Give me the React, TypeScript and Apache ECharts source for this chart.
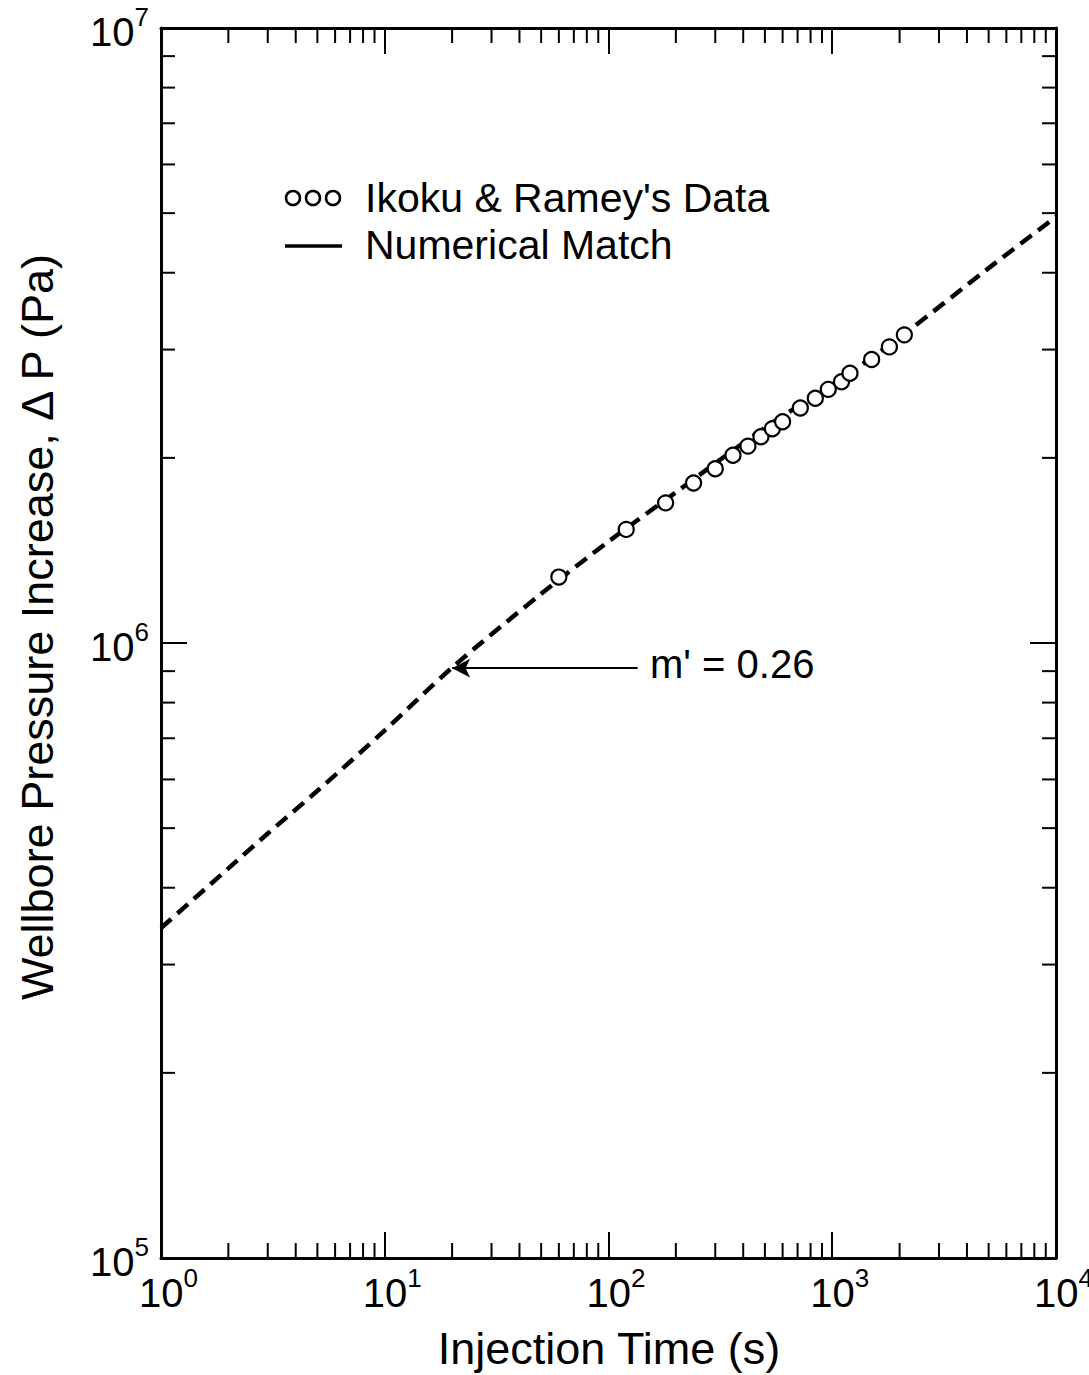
import React, { useEffect, useRef } from "react";
import * as echarts from "echarts";

// Ikoku & Ramey's data (injection time s, pressure increase Pa)
const dataTime = [60, 120, 180, 240, 300, 360, 420, 480, 540, 600, 720, 840, 960, 1100, 1200, 1500, 1800, 2100];
const dataPressure = [
  1.28e6, 1.53e6, 1.69e6, 1.82e6, 1.92e6, 2.02e6, 2.09e6, 2.165e6, 2.23e6, 2.29e6,
  2.41e6, 2.5e6, 2.585e6, 2.66e6, 2.745e6, 2.89e6, 3.03e6, 3.17e6,
];

// Numerical match (dashed curve)
const matchTime = [1, 2, 3, 5, 10, 20, 50, 100, 200, 500, 1000, 2000, 5000, 10000];
const matchPressure = [
  3.44e5, 4.3e5, 4.9e5, 5.75e5, 7.21e5, 9.12e5, 1.202e6, 1.462e6, 1.758e6, 2.239e6,
  2.63e6, 3.14e6, 4.07e6, 4.93e6,
];

// minor tick positions
const xMinorTicks = [
  2, 3, 4, 5, 6, 7, 8, 9,
  20, 30, 40, 50, 60, 70, 80, 90,
  200, 300, 400, 500, 600, 700, 800, 900,
  2000, 3000, 4000, 5000, 6000, 7000, 8000, 9000,
];
const yMinorTicks = [
  2e5, 3e5, 4e5, 5e5, 6e5, 7e5, 8e5, 9e5,
  2e6, 3e6, 4e6, 5e6, 6e6, 7e6, 8e6, 9e6,
];

// annotation arrow
const arrowFrom = [135, 9.1e5];
const arrowTo = [20, 9.1e5];
const slopeLabel = "m' = 0.26";

const FONT = "'Liberation Sans', Arial, Helvetica, sans-serif";

const powLabel = (v: number) => `{b|10}{s|${Math.round(Math.log10(v))}}`;
const richPow = {
  b: { fontSize: 40, fontFamily: FONT, color: "#000", lineHeight: 48, verticalAlign: "bottom" },
  s: { fontSize: 26, fontFamily: FONT, color: "#000", lineHeight: 25, verticalAlign: "top" },
};

export default function App() {
  const ref = useRef<HTMLDivElement>(null);
  useEffect(() => {
    if (!ref.current) return;
    const chart = echarts.init(ref.current, null, { renderer: "svg" });
    const axisLine = { show: true, lineStyle: { color: "#000", width: 3 } };
    const majorTick = { show: true, inside: true, length: 26, lineStyle: { color: "#000", width: 2 } };
    const option: any = {
      animation: false,
      backgroundColor: "#fff",
      grid: { left: 161, top: 28, width: 895, height: 1230, containLabel: false, outerBoundsMode: "none" },
      xAxis: [
        {
          type: "log", logBase: 10, min: 1, max: 10000, position: "bottom",
          axisLine, axisTick: majorTick, splitLine: { show: false },
          axisLabel: { formatter: powLabel, rich: richPow, margin: 7, padding: [0, 0, 0, 15] },
        },
        {
          type: "log", logBase: 10, min: 1, max: 10000, position: "top",
          axisLine, axisTick: majorTick, splitLine: { show: false },
          axisLabel: { show: false },
        },
      ],
      yAxis: [
        {
          type: "log", logBase: 10, min: 1e5, max: 1e7, position: "left",
          axisLine, axisTick: majorTick, splitLine: { show: false },
          axisLabel: { formatter: powLabel, rich: richPow, margin: 12 },
        },
        {
          type: "log", logBase: 10, min: 1e5, max: 1e7, position: "right",
          axisLine, axisTick: majorTick, splitLine: { show: false },
          axisLabel: { show: false },
        },
      ],
      series: [
        {
          type: "custom",
          xAxisIndex: 0, yAxisIndex: 0, silent: true, clip: false,
          data: xMinorTicks.map((v) => [v, 1e6]),
          encode: { x: 0, y: 1 },
          renderItem: (params: any, api: any) => {
            const cs = params.coordSys;
            const px = api.coord([api.value(0), 1e6])[0];
            const st = { stroke: "#000", lineWidth: 2 };
            return {
              type: "group",
              children: [
                { type: "line", shape: { x1: px, y1: cs.y + cs.height, x2: px, y2: cs.y + cs.height - 15 }, style: st },
                { type: "line", shape: { x1: px, y1: cs.y, x2: px, y2: cs.y + 15 }, style: st },
              ],
            };
          },
        },
        {
          type: "custom",
          xAxisIndex: 0, yAxisIndex: 0, silent: true, clip: false,
          data: yMinorTicks.map((v) => [10, v]),
          encode: { x: 0, y: 1 },
          renderItem: (params: any, api: any) => {
            const cs = params.coordSys;
            const py = api.coord([10, api.value(1)])[1];
            const st = { stroke: "#000", lineWidth: 2 };
            return {
              type: "group",
              children: [
                { type: "line", shape: { x1: cs.x, y1: py, x2: cs.x + 14, y2: py }, style: st },
                { type: "line", shape: { x1: cs.x + cs.width, y1: py, x2: cs.x + cs.width - 14, y2: py }, style: st },
              ],
            };
          },
        },
        {
          name: "Numerical Match",
          type: "line",
          data: matchTime.map((t, i) => [t, matchPressure[i]]),
          showSymbol: false,
          symbol: "none",
          smooth: 0.3,
          lineStyle: { color: "#000", width: 4.5, type: [14, 8] },
          markLine: {
            silent: true,
            symbol: ["none", "arrow"],
            symbolSize: [14, 18],
            label: { show: false },
            lineStyle: { color: "#000", width: 2, type: "solid" },
            data: [[{ coord: arrowFrom }, { coord: arrowTo }]],
          },
          z: 3,
        },
        {
          name: "Ikoku & Ramey's Data",
          type: "scatter",
          data: dataTime.map((t, i) => [t, dataPressure[i]]),
          symbol: "circle",
          symbolSize: 15,
          itemStyle: { color: "#fff", borderColor: "#000", borderWidth: 2.2, opacity: 1 },
          z: 4,
        },
      ],
      graphic: [
        { type: "circle", shape: { cx: 293, cy: 198, r: 7 }, style: { fill: "#fff", stroke: "#000", lineWidth: 2.5 } },
        { type: "circle", shape: { cx: 313, cy: 198, r: 7 }, style: { fill: "#fff", stroke: "#000", lineWidth: 2.5 } },
        { type: "circle", shape: { cx: 333, cy: 198, r: 7 }, style: { fill: "#fff", stroke: "#000", lineWidth: 2.5 } },
        { type: "text", x: 365, y: 198, style: { text: "Ikoku & Ramey's Data", font: `41px ${FONT}`, fill: "#000", textVerticalAlign: "middle" } },
        { type: "line", shape: { x1: 285, y1: 246, x2: 342, y2: 246 }, style: { stroke: "#000", lineWidth: 3.5 } },
        { type: "text", x: 365, y: 245, style: { text: "Numerical Match", font: `41px ${FONT}`, fill: "#000", textVerticalAlign: "middle" } },
        { type: "text", x: 650, y: 664, style: { text: slopeLabel, font: `40px ${FONT}`, fill: "#000", textVerticalAlign: "middle" } },
        { type: "text", x: 609, y: 1348, style: { text: "Injection Time (s)", font: `45px ${FONT}`, fill: "#000", textAlign: "center", textVerticalAlign: "middle" } },
        {
          type: "text", x: 37, y: 627, rotation: Math.PI / 2,
          style: { text: "Wellbore Pressure Increase, \u0394 P (Pa)", font: `45px ${FONT}`, fill: "#000", textAlign: "center", textVerticalAlign: "middle" },
        },
      ],
    };
    chart.setOption(option);
    return () => chart.dispose();
  }, []);
  return <div ref={ref} style={{ position: "absolute", left: 0, top: 0, width: 1089, height: 1375 }} />;
}
